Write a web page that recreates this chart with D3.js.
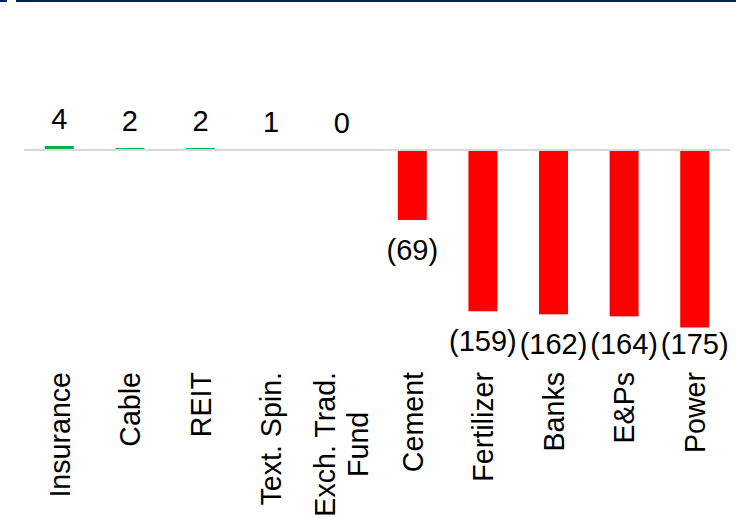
<!DOCTYPE html>
<html>
<head>
<meta charset="utf-8">
<script src="https://cdn.jsdelivr.net/npm/d3@7"></script>
<style>
  body { margin: 0; background: #fff; }
  text { font-family: "Liberation Sans", Arial, sans-serif; fill: #000; }
</style>
</head>
<body>
<script>
const width = 736;
const height = 519;

const categories = ["Insurance", "Cable", "REIT", "Text. Spin.", "Exch. Trad.\nFund",
  "Cement", "Fertilizer", "Banks", "E&Ps", "Power"];
const values = [4, 2, 2, 1, 0, -69, -159, -162, -164, -175];

const data = categories.map((c, i) => ({ cat: c, value: values[i] }));

let svg = d3
  .select("body")
  .append("svg")
  .attr("width", width)
  .attr("height", height);

// top rule
svg.append("rect").attr("x", 0).attr("y", 0).attr("width", 7).attr("height", 2).attr("fill", "#002060");
svg.append("rect").attr("x", 16).attr("y", 0).attr("width", width - 16).attr("height", 2).attr("fill", "#002060");

let xScale = d3
  .scaleBand()
  .domain(categories)
  .range([24, 730])
  .paddingInner(0.59)
  .paddingOuter(0.295);

let yScale = d3.scaleLinear().domain([-175, 4]).range([327.5, 146]);

let fmt = (v) => (v < 0 ? `(${Math.abs(v)})` : `${v}`);

svg
  .selectAll("rect.bar")
  .data(data)
  .join("rect")
  .attr("class", "bar")
  .attr("x", (d) => xScale(d.cat))
  .attr("width", xScale.bandwidth())
  .attr("y", (d) => Math.min(yScale(d.value), yScale(0)))
  .attr("height", (d) => Math.abs(yScale(d.value) - yScale(0)))
  .attr("fill", (d) => (d.value < 0 ? "#ff0000" : "#00b050"));

// zero line
svg
  .append("line")
  .attr("x1", 24)
  .attr("x2", 730)
  .attr("y1", yScale(0))
  .attr("y2", yScale(0))
  .attr("stroke", "#d9d9d9")
  .attr("stroke-width", 2);

// value labels
svg
  .selectAll("text.val")
  .data(data)
  .join("text")
  .attr("class", "val")
  .attr("x", (d) => xScale(d.cat) + xScale.bandwidth() / 2)
  .attr("y", (d) => (d.value < 0 ? Math.min(yScale(d.value) + 40, 354) : yScale(d.value) - 17))
  .attr("text-anchor", "middle")
  .attr("font-size", 29)
  .text((d) => fmt(d.value));

// category labels, rotated, top edge at y = 372
const labelTop = 372;
const lineGap = 33;
const fs = 28.6;
svg
  .selectAll("g.cat")
  .data(data)
  .join("g")
  .attr("class", "cat")
  .each(function (d) {
    let g = d3.select(this);
    let lines = d.cat.split("\n");
    let cx = xScale(d.cat) + xScale.bandwidth() / 2;
    let t = g
      .append("text")
      .attr("font-size", fs)
      .attr("text-anchor", "middle");
    lines.forEach((ln, i) => {
      t.append("tspan")
        .attr("x", 0)
        .attr("dy", i === 0 ? `${0.36 - (lines.length - 1) * lineGap / 2 / fs}em` : lineGap)
        .text(ln);
    });
    let w = d3.max(t.selectAll("tspan").nodes(), (n) => n.getComputedTextLength());
    t.attr("transform", `translate(${cx},${labelTop + w / 2}) rotate(-90)`);
  });
</script>
</body>
</html>
